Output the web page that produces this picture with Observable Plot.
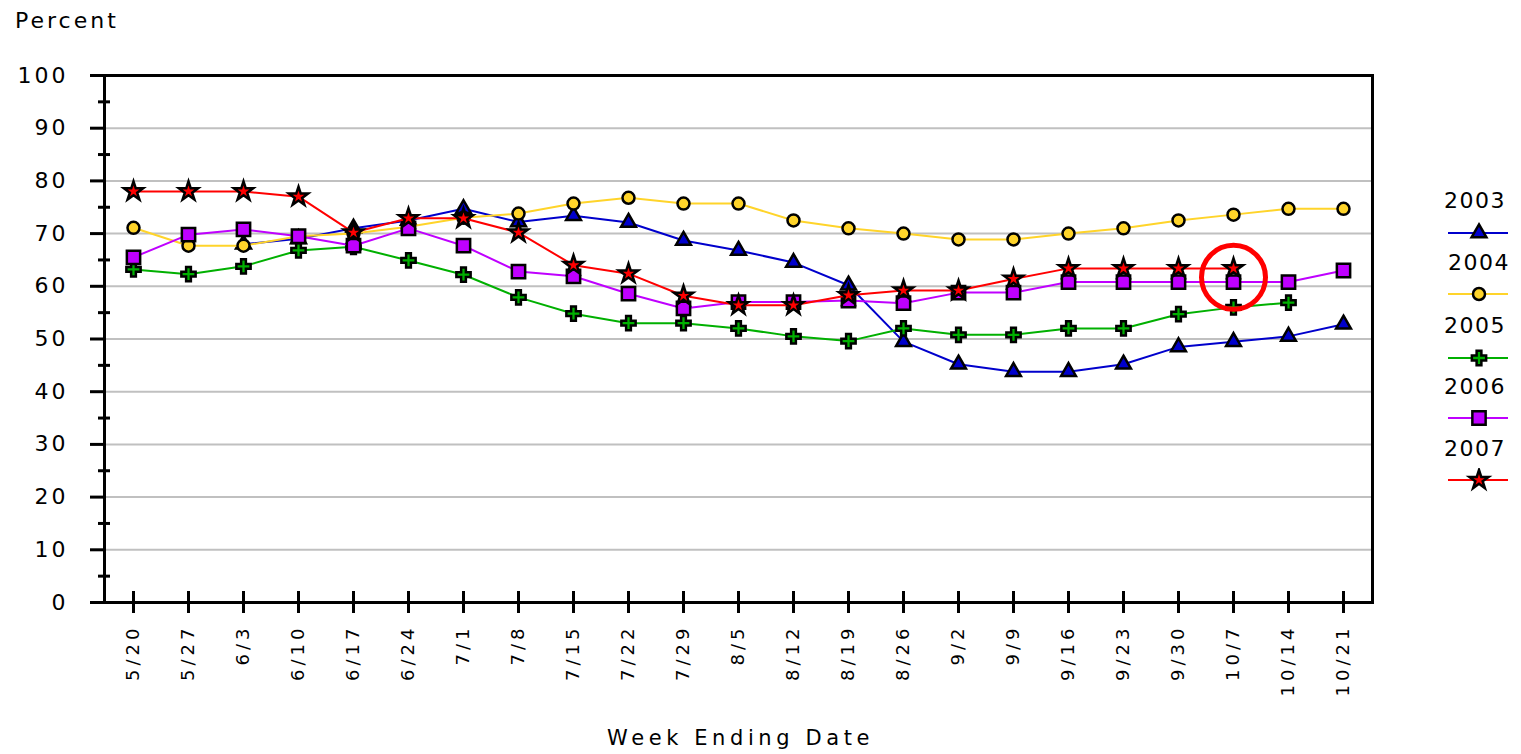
<!DOCTYPE html>
<html>
<head>
<meta charset="utf-8">
<script src="https://cdn.jsdelivr.net/npm/d3@7"></script>
<script src="https://cdn.jsdelivr.net/npm/@observablehq/plot@0.6"></script>
<style>
  body { margin: 0; background: #fff; }
  #wrap { position: relative; width: 1521px; height: 754px; font-family: "DejaVu Sans", sans-serif; color: #000; overflow: hidden; }
  #wrap > svg.plotsvg { position: absolute; left: 0; top: 0; }
  .lab { position: absolute; white-space: nowrap; line-height: 1; }
  #wrap g[aria-label="x-axis tick label"] { letter-spacing: 4px; }
  #wrap g[aria-label="y-axis tick label"] { letter-spacing: 3px; }
  .swatch { position: absolute; }
</style>
</head>
<body>
<div id="wrap"></div>
<script>
// ---- data ----
const weeks = ["5/20","5/27","6/3","6/10","6/17","6/24","7/1","7/8","7/15","7/22","7/29","8/5","8/12","8/19","8/26","9/2","9/9","9/16","9/23","9/30","10/7","10/14","10/21"];
const years = ["2003","2004","2005","2006","2007"];
const v2003 = [null, null, 68, 69, 71, 72.5, 74.7, 72.2, 73.4, 72.1, 68.7, 66.8, 64.5, 60.2, 49.5, 45.2, 43.8, 43.8, 45.2, 48.5, 49.5, 50.5, 52.8];
const v2004 = [71.1, 67.7, 67.7, 69.5, 70, 71.3, 73, 73.8, 75.7, 76.8, 75.7, 75.7, 72.5, 71, 70, 68.9, 68.9, 70, 71, 72.5, 73.6, 74.7, 74.7];
const v2005 = [63.2, 62.3, 63.8, 66.8, 67.5, 64.9, 62.2, 57.9, 54.8, 53, 53, 52, 50.5, 49.6, 52, 50.8, 50.8, 52, 52, 54.7, 56, 56.9, null];
const v2006 = [65.5, 69.8, 70.8, 69.5, 67.7, 71, 67.7, 62.8, 61.9, 58.6, 55.8, 57, 57, 57.3, 56.8, 58.8, 58.8, 60.8, 60.8, 60.8, 60.8, 60.8, 63];
const v2007 = [78, 78, 78, 77, 70.2, 72.9, 72.9, 70.2, 64, 62.4, 58.2, 56.4, 56.4, 58.3, 59.2, 59.2, 61.4, 63.4, 63.4, 63.4, 63.4, null, null];
const yTicks = [0, 10, 20, 30, 40, 50, 60, 70, 80, 90, 100];
const yMinorTicks = [5, 15, 25, 35, 45, 55, 65, 75, 85, 95];
const highlight = [{week: "10/7", value: 61.7}];

// ---- styling ----
const colors = ["#0000cc", "#ffd42a", "#00b000", "#bf00ff", "#ff0000"];
const symbols = ["triangle", "circle", "cross", "square", "star"];
const radii = [5.5, 6, 6, 7.5, 6];

const valuesByYear = [v2003, v2004, v2005, v2006, v2007];
const rows = years.flatMap((yr, i) => weeks.map((w, j) => ({week: w, year: yr, value: valuesByYear[i][j]})));

const seriesMarks = years.flatMap((yr, i) => {
  const d = rows.filter(r => r.year === yr);
  return [
    Plot.line(d, {x: "week", y: "value", stroke: colors[i], strokeWidth: 2}),
    Plot.dot(d, {x: "week", y: "value", symbol: symbols[i], r: radii[i], fill: colors[i], stroke: "black", strokeWidth: 2.5})
  ];
});

const chart = Plot.plot({
  width: 1521,
  height: 754,
  marginLeft: 104,
  marginRight: 149,
  marginTop: 75,
  marginBottom: 152,
  className: "plotsvg",
  style: {fontFamily: "DejaVu Sans, sans-serif", color: "black", background: "white", overflow: "visible"},
  x: {type: "point", domain: weeks, padding: 0.45, axis: null},
  y: {domain: [0, 100], axis: null},
  marks: [
    Plot.ruleY(yTicks.filter(t => t > 0 && t < 100), {stroke: "#c0c0c0", strokeWidth: 2}),
    Plot.frame({stroke: "black", strokeWidth: 3}),
    Plot.axisY(yTicks, {tickSize: 14, tickPadding: 22, strokeWidth: 3, fontSize: 22, label: null, fill: "black"}),
    Plot.axisY(yMinorTicks, {tickSize: 12, dx: 6, strokeWidth: 3, tickFormat: () => "", label: null}),
    Plot.axisX({tickSize: 22, dy: -11, strokeWidth: 3, tickFormat: () => "", label: null}),
    Plot.axisX({tickSize: 0, tickPadding: 22, tickRotate: -90, fontSize: 18, label: null, fill: "black"}),
    ...seriesMarks,
    Plot.dot(highlight, {x: "week", y: "value", r: 32, stroke: "#ff0000", strokeWidth: 5, fill: "none"})
  ]
});

const wrap = document.getElementById("wrap");
wrap.appendChild(chart);

function addLabel(text, left, baseline, size, spacing) {
  const el = document.createElement("div");
  el.className = "lab";
  el.textContent = text;
  el.style.left = left + "px";
  // with line-height 1, baseline sits ~0.846em below the box top for DejaVu Sans
  el.style.top = (baseline - 0.846 * size) + "px";
  el.style.fontSize = size + "px";
  el.style.letterSpacing = spacing + "px";
  wrap.appendChild(el);
}

addLabel("Percent", 15, 29, 22, 3);
addLabel("Week Ending Date", 607, 746, 21, 4.6);

// legend
const legendText = [[1444, 209], [1448, 271], [1444, 334], [1444, 395], [1444, 457]];
const legendSwatchY = [233, 294, 358, 418, 480];
years.forEach((yr, i) => {
  addLabel(yr, legendText[i][0], legendText[i][1], 22, 1.5);
  const svg = d3.create("svg").attr("class", "swatch").attr("width", 70).attr("height", 24)
    .style("left", "1443px").style("top", (legendSwatchY[i] - 12) + "px");
  svg.append("line").attr("x1", 5).attr("x2", 65).attr("y1", 12).attr("y2", 12)
    .attr("stroke", colors[i]).attr("stroke-width", 2);
  const sym = {triangle: d3.symbolTriangle, circle: d3.symbolCircle, cross: d3.symbolCross, square: d3.symbolSquare, star: d3.symbolStar}[symbols[i]];
  svg.append("path").attr("transform", "translate(36,12)")
    .attr("d", d3.symbol(sym, Math.PI * radii[i] * radii[i])())
    .attr("fill", colors[i]).attr("stroke", "black").attr("stroke-width", 2.5);
  wrap.appendChild(svg.node());
});
</script>
</body>
</html>
